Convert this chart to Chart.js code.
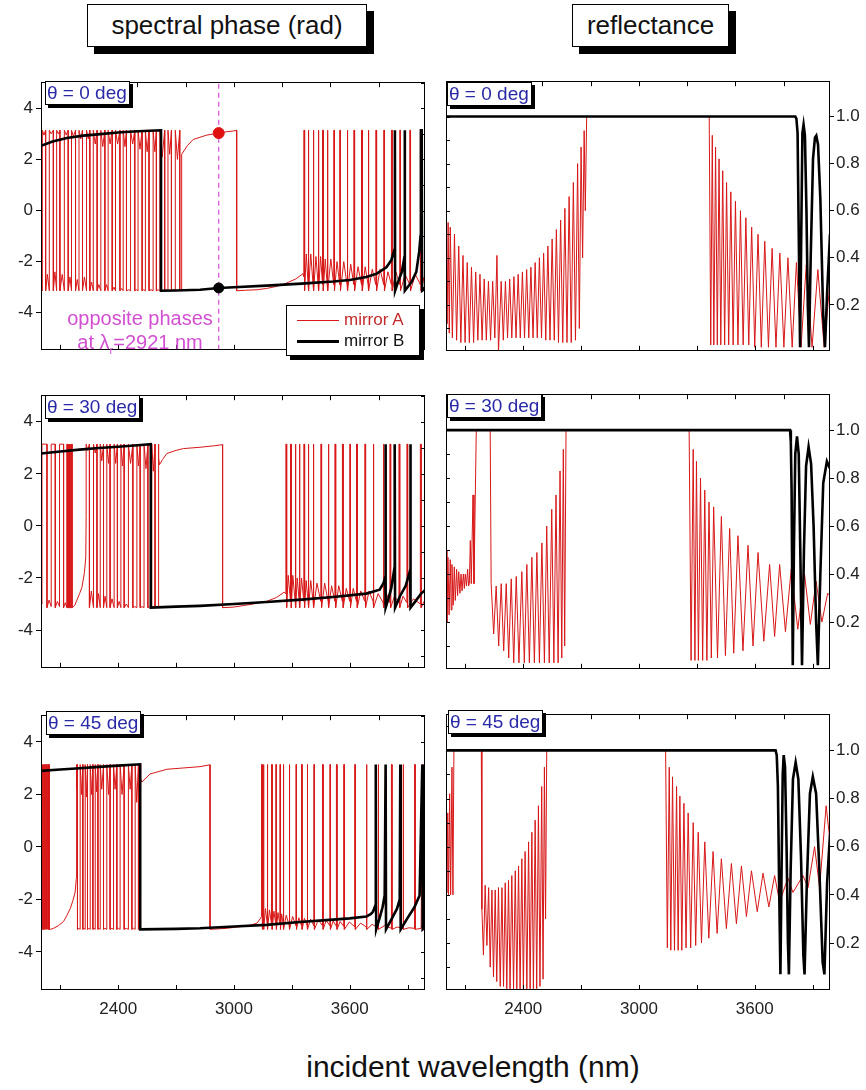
<!DOCTYPE html>
<html>
<head>
<meta charset="utf-8">
<script src="https://cdn.jsdelivr.net/npm/chart.js@4.4.1/dist/chart.umd.min.js"></script>
<style>
  body { margin: 0; background: #fff; }
  #page { position: relative; width: 866px; height: 1090px; overflow: hidden; font-family: 'Liberation Sans', Arial, sans-serif; }
  canvas { position: absolute; }
  .tbox { position: absolute; background: #fff; border: 1px solid #000; box-shadow: 7px 7px 0 #000; font-size: 26px; color: #111;
          display: flex; align-items: center; justify-content: center; }
  .abox { position: absolute; background: #fff; border: 1px solid #000; box-shadow: 3px 3px 0 #000; color: #2a2aa8;
          font-size: 19px; line-height: 22px; padding: 0 2px 0 1px; white-space: nowrap; }
  .legend { position: absolute; left: 286px; top: 305px; width: 132px; height: 49px; background: #fff; border: 1px solid #000;
            box-shadow: 4px 4px 0 #000; font-size: 17px; }
  .legend div { position: absolute; left: 10px; height: 20px; line-height: 20px; white-space: nowrap; }
  .legend span.ln { display: inline-block; width: 42px; vertical-align: middle; margin-right: 5px; }
  .note { position: absolute; color: #d24fd2; font-size: 20px; text-align: center; width: 200px; left: 40px; white-space: nowrap; }
  .xtitle { position: absolute; left: 0; width: 946px; top: 1050px; text-align: center; font-size: 30px; color: #111; }
</style>
</head>
<body>
<div id="page">
  <div class="tbox" style="left:87px;top:4px;width:278px;height:41px">spectral phase (rad)</div>
  <div class="tbox" style="left:572px;top:4px;width:155px;height:41px">reflectance</div>
  <div class="xtitle">incident wavelength (nm)</div>
</div>
<script>
// axis ranges and ticks
const X_MIN = 2000, X_MAX = 3990;
const PHASE_MIN = -5.45, PHASE_MAX = 5.02;
const REFL_MIN = 0.005, REFL_MAX = 1.15;
const xLabels = [2400, 3000, 3600];
const bottomTicks = [2100, 2400, 2700, 3000, 3300, 3600, 3900];
const topTicks = [2250, 2500, 2750, 3000, 3250, 3500, 3750];
const phaseTicks = [-4, -2, 0, 2, 4];
const phaseMinor = [-5, -4, -3, -2, -1, 0, 1, 2, 3, 4, 5];
const reflTicks = [0.2, 0.4, 0.6, 0.8, 1.0];
const reflMinor = [0.1, 0.2, 0.3, 0.4, 0.5, 0.6, 0.7, 0.8, 0.9, 1.0, 1.1];
const angles = ['θ = 0 deg', 'θ = 30 deg', 'θ = 45 deg'];

// opposite phases marker
const LAMBDA_R = 2921;
const PHASE_A_R = 3.03, PHASE_B_R = -3.03;

// spectral phase (rad), pairs of wavelength (nm), phase
const phaseA0 = [
  2000,-2.9, 2007,-3.14, 2007,3.14, 2015,2.95, 2024,3.14, 2024,-3.14, 2033,-2.5, 2043,-3.14, 2043,3.14, 2053,3.0,
  2064,3.14, 2064,-3.14, 2072,-2.4, 2081,-3.14, 2081,3.14, 2090,3.0, 2098,3.14, 2098,-3.14, 2110,-2.5, 2121,-3.14,
  2121,3.14, 2131,2.95, 2141,3.14, 2141,-3.14, 2150,-2.6, 2158,-3.14, 2158,3.14, 2168,2.9, 2179,3.14, 2179,-3.14,
  2188,-2.7, 2197,-3.14, 2197,3.14, 2206,2.8, 2215,3.14, 2215,-3.14, 2225,-2.6, 2236,-3.14, 2236,3.14, 2245,2.8,
  2253,3.14, 2253,-3.14, 2262,-2.8, 2271,-3.14, 2271,3.14, 2281,2.6, 2291,3.14, 2291,-3.14, 2300,-2.9, 2310,-3.14,
  2310,3.14, 2320,2.5, 2331,3.14, 2331,-3.14, 2340,-2.9, 2348,-3.14, 2348,3.14, 2358,2.6, 2369,3.14, 2369,-3.14,
  2378,-3.0, 2386,-3.14, 2386,3.14, 2397,2.6, 2409,3.14, 2409,-3.14, 2418,-3.05, 2426,-3.14, 2426,3.14, 2435,2.5,
  2443,3.14, 2443,-3.14, 2454,-3.1, 2464,-3.14, 2464,3.14, 2475,2.6, 2486,3.14, 2486,-3.14, 2495,-3.1, 2503,-3.14,
  2503,3.14, 2513,2.4, 2524,3.14, 2524,-3.14, 2532,-3.1, 2541,-3.14, 2541,3.14, 2550,2.3, 2560,3.14, 2560,-3.14,
  2570,-3.1, 2581,-3.14, 2581,3.14, 2590,2.3, 2598,3.14, 2598,-3.14, 2607,-3.1, 2616,-3.14, 2616,3.14, 2628,2.1,
  2641,3.14, 2641,-3.14, 2650,-3.1, 2658,-3.14, 2658,3.14, 2667,2.2, 2676,3.14, 2676,-3.14, 2686,-3.1, 2696,-3.14,
  2696,3.14, 2707,2.0, 2719,3.14, 2719,-3.14, 2724,-3.1, 2729,-3.14, 2729,2.2,
  2760,2.55, 2789,2.78, 2830,2.88, 2859,2.95, 2921,3.03, 2960,3.08, 2996,3.11, 3014,3.14, 3014,-3.14, 3060,-3.12,
  3120,-3.1, 3169,-3.05, 3220,-2.97, 3255,-2.9, 3290,-2.78, 3320,-2.68, 3358,-2.47,
  3362,-2.6, 3362,3.14, 3366,3.14, 3366,-3.14, 3375,-1.7, 3384,-2.9, 3384,3.14, 3388,3.14, 3388,-3.14, 3398,-1.7,
  3410,-2.9, 3410,3.14, 3414,3.14, 3414,-3.14, 3425,-1.8, 3436,-2.9, 3436,3.14, 3440,3.14, 3440,-3.14, 3449,-1.8,
  3459,-2.9, 3459,3.14, 3463,3.14, 3463,-3.14, 3473,-1.9, 3483,-2.9, 3483,3.14, 3487,3.14, 3487,-3.14, 3502,-1.9,
  3517,-2.9, 3517,3.14, 3521,3.14, 3521,-3.14, 3534,-2.0, 3548,-2.9, 3548,3.14, 3552,3.14, 3552,-3.14, 3569,-2.0,
  3586,-2.9, 3586,3.14, 3590,3.14, 3590,-3.14, 3605,-2.1, 3621,-2.9, 3621,3.14, 3625,3.14, 3625,-3.14, 3643,-2.2,
  3661,-2.9, 3661,3.14, 3665,3.14, 3665,-3.14, 3680,-2.2, 3695,-2.9, 3695,3.14, 3699,3.14, 3699,-3.14, 3717,-2.3,
  3735,-2.9, 3735,3.14, 3739,3.14, 3739,-3.14, 3757,-2.3, 3776,-2.9, 3776,3.14, 3780,3.14, 3780,-3.14, 3798,-2.4,
  3816,-2.9, 3816,3.14, 3820,3.14, 3820,-3.14, 3839,-2.4, 3859,-2.9, 3859,3.14, 3863,3.14, 3863,-3.14, 3887,-2.5,
  3911,-2.9, 3911,3.14, 3915,3.14, 3915,-3.14, 3940,-2.5, 3966,-2.9, 3966,3.14, 3970,3.14, 3970,-3.14, 3985,-2.6,
  4000,-2.9
];
const phaseB0 = [
  2000,2.53, 2060,2.7, 2134,2.84, 2220,2.93, 2307,2.99, 2400,3.05, 2479,3.09, 2560,3.12, 2622,3.14, 2622,-3.14,
  2700,-3.13, 2824,-3.1, 2921,-3.03, 3000,-3.0, 3169,-2.94, 3350,-2.86, 3514,-2.78, 3600,-2.72, 3686,-2.6, 3740,-2.47,
  3790,-2.22, 3815,-1.95, 3833,-1.5, 3834,3.14, 3835,-3.14, 3850,-2.8, 3870,-2.4, 3884,-1.8, 3885,3.14, 3886,-3.14,
  3920,-2.8, 3945,-2.4, 3960,-1.6, 3967,-1.0, 3969,3.14, 3973,3.14, 3975,-3.14, 4000,-3.0
];
const phaseA1 = [
  2000,-2.9, 2005,-3.0, 2005,3.14, 2031,3.14, 2031,-3.14, 2042,-2.85, 2053,-3.1, 2053,3.14, 2074,3.14, 2074,-3.14,
  2085,-2.9, 2096,-3.1, 2096,3.14, 2117,3.14, 2117,-3.14, 2126,-2.95, 2134,-3.14, 2134,3.14, 2137,3.14, 2137,-3.14,
  2140,-3.14, 2140,3.14, 2143,3.14, 2143,-3.14, 2146,-3.14, 2146,3.14, 2149,3.14, 2149,-3.14, 2152,-3.14, 2152,3.14,
  2155,3.14, 2155,-3.14, 2158,-3.14, 2158,3.14, 2161,3.14, 2161,-3.14, 2175,-3.05, 2186,-2.85, 2200,-2.6, 2212,-2.36,
  2225,-1.8, 2232,-1.2, 2234,0.4, 2234,3.14,
  2242,2.9, 2251,3.14, 2251,-3.14, 2261,-2.5, 2272,-3.14, 2272,3.14, 2281,2.8, 2290,3.14, 2290,-3.14, 2298,-2.6,
  2307,-3.14, 2307,3.14, 2315,2.5, 2324,3.14, 2324,-3.14, 2332,-2.7, 2341,-3.14, 2341,3.14, 2350,2.4, 2358,3.14,
  2358,-3.14, 2368,-2.8, 2379,-3.14, 2379,3.14, 2387,2.4, 2396,3.14, 2396,-3.14, 2405,-2.9, 2414,-3.14, 2414,3.14,
  2422,2.3, 2431,3.14, 2431,-3.14, 2442,-3.0, 2453,-3.14, 2453,3.14, 2464,2.4, 2476,3.14, 2476,-3.14, 2486,-3.1,
  2497,-3.14, 2497,3.14, 2505,2.3, 2514,3.14, 2514,-3.14, 2524,-3.1, 2534,-3.14, 2534,3.14, 2544,2.2, 2554,3.14,
  2554,-3.14, 2564,-3.1, 2574,-3.14, 2574,3.14, 2582,2.1, 2591,3.14, 2591,-3.14, 2600,-3.1, 2608,-3.14, 2608,3.14,
  2611,2.6, 2614,2.35, 2630,2.55, 2652,2.78, 2700,2.9, 2738,2.97, 2824,3.02, 2900,3.08, 2941,3.12, 2941,-3.14,
  2996,-3.12, 3083,-3.02, 3169,-2.9, 3220,-2.75, 3259,-2.55,
  3269,-2.6, 3269,3.14, 3273,3.14, 3273,-3.14, 3281,-1.9, 3293,-2.9, 3293,3.14, 3297,3.14, 3297,-3.14, 3305,-1.9,
  3317,-2.9, 3317,3.14, 3321,3.14, 3321,-3.14, 3328,-2.0, 3338,-2.9, 3338,3.14, 3342,3.14, 3342,-3.14, 3350,-2.0,
  3362,-2.9, 3362,3.14, 3366,3.14, 3366,-3.14, 3374,-2.1, 3384,-2.9, 3384,3.14, 3388,3.14, 3388,-3.14, 3398,-2.1,
  3410,-2.9, 3410,3.14, 3414,3.14, 3414,-3.14, 3430,-2.2, 3450,-2.9, 3450,3.14, 3454,3.14, 3454,-3.14, 3470,-2.2,
  3488,-2.9, 3488,3.14, 3492,3.14, 3492,-3.14, 3506,-2.3, 3523,-2.9, 3523,3.14, 3527,3.14, 3527,-3.14, 3543,-2.3,
  3562,-2.9, 3562,3.14, 3566,3.14, 3566,-3.14, 3582,-2.4, 3600,-2.9, 3600,3.14, 3604,3.14, 3604,-3.14, 3618,-2.4,
  3635,-2.9, 3635,3.14, 3639,3.14, 3639,-3.14, 3657,-2.5, 3678,-2.9, 3678,3.14, 3682,3.14, 3682,-3.14, 3700,-2.5,
  3721,-2.9, 3721,3.14, 3725,3.14, 3725,-3.14, 3747,-2.6, 3773,-2.95, 3773,3.14, 3777,3.14, 3777,-3.14, 3790,-2.6,
  3808,-2.95, 3808,3.14, 3812,3.14, 3812,-3.14, 3832,-2.7, 3855,-2.95, 3855,3.14, 3859,3.14, 3859,-3.14, 3876,-2.7,
  3896,-2.95, 3896,3.14, 3900,3.14, 3900,-3.14, 3930,-2.8, 3966,-3.0, 3966,3.14, 3970,3.14, 3970,-3.14, 3985,-2.9,
  4000,-3.0
];
const phaseB1 = [
  2000,2.78, 2100,2.86, 2200,2.93, 2300,2.99, 2400,3.04, 2500,3.1, 2569,3.14, 2569,-3.14, 2700,-3.1, 2824,-3.07,
  3000,-3.0, 3169,-2.92, 3350,-2.83, 3514,-2.73, 3686,-2.6, 3755,-2.45, 3775,-2.2, 3784,-1.97, 3785,3.14, 3787,-3.14,
  3800,-2.8, 3815,-2.4, 3832,-1.6, 3833,3.14, 3835,-3.14, 3860,-2.7, 3890,-2.3, 3913,-1.7, 3914,3.14, 3916,-3.14,
  3940,-2.9, 3970,-2.6, 4000,-2.4
];
const phaseA2 = [
  2000,-3.14, 2000,3.14, 2003,3.14, 2003,-3.14, 2006,-3.14, 2006,3.14, 2009,3.14, 2009,-3.14, 2012,-3.14, 2012,3.14,
  2015,3.14, 2015,-3.14, 2018,-3.14, 2018,3.14, 2021,3.14, 2021,-3.14, 2024,-3.14, 2024,3.14, 2027,3.14, 2027,-3.14,
  2030,-3.14, 2030,3.14, 2033,3.14, 2033,-3.14, 2036,-3.14, 2036,3.14, 2039,3.14, 2039,-3.14, 2042,-3.14, 2042,3.14,
  2045,3.14, 2045,-3.14, 2048,-3.14, 2065,-3.1, 2090,-3.0, 2117,-2.84, 2135,-2.6, 2152,-2.34, 2165,-2.05, 2177,-1.72,
  2183,-1.2, 2183,3.14,
  2186,2.2, 2189,3.14, 2189,-3.14, 2196,-3.1, 2203,-3.14, 2203,3.14, 2210,2.0, 2217,3.14, 2217,-3.14, 2223,-3.1,
  2229,-3.14, 2229,3.14, 2235,1.9, 2241,3.14, 2241,-3.14, 2248,-3.1, 2255,-3.14, 2255,3.14, 2262,2.0, 2269,3.14,
  2269,-3.14, 2275,-3.1, 2281,-3.14, 2281,3.14, 2288,2.1, 2295,3.14, 2295,-3.14, 2301,-3.1, 2307,-3.14, 2307,3.14,
  2315,2.2, 2324,3.14, 2324,-3.14, 2332,-3.1, 2341,-3.14, 2341,3.14, 2350,2.0, 2358,3.14, 2358,-3.14, 2367,-3.1,
  2376,-3.14, 2376,3.14, 2384,2.2, 2393,3.14, 2393,-3.14, 2401,-3.1, 2410,-3.14, 2410,3.14, 2420,2.0, 2431,3.14,
  2431,-3.14, 2442,-3.1, 2453,-3.14, 2453,3.14, 2462,2.2, 2471,3.14, 2471,-3.14, 2479,-3.1, 2488,-3.14, 2488,3.14,
  2496,1.7, 2505,3.14, 2505,-3.14, 2510,-3.1, 2514,-3.14, 2514,3.14, 2518,2.6, 2522,2.47,
  2565,2.78, 2652,2.96, 2738,3.01, 2824,3.06, 2876,3.13, 2876,-3.14, 2962,-3.1, 3040,-3.03, 3083,-2.99, 3120,-2.9,
  3143,-2.66,
  3143,3.14, 3146,3.14, 3146,-3.14, 3149,-2.3, 3152,-2.9, 3152,3.14, 3155,3.14, 3155,-3.14, 3163,-2.35,
  3172,-2.9, 3172,3.14, 3175,3.14, 3175,-3.14, 3184,-2.4, 3195,-2.95, 3195,3.14, 3198,3.14, 3198,-3.14, 3207,-2.45,
  3217,-2.95, 3217,3.14, 3220,3.14, 3220,-3.14, 3228,-2.5, 3238,-2.95, 3238,3.14, 3241,3.14, 3241,-3.14, 3247,-2.55,
  3255,-2.95, 3255,3.14, 3258,3.14, 3258,-3.14, 3271,-2.6, 3286,-3.0, 3286,3.14, 3289,3.14, 3289,-3.14, 3304,-2.65,
  3321,-3.0, 3321,3.14, 3324,3.14, 3324,-3.14, 3336,-2.7, 3350,-3.0, 3350,3.14, 3353,3.14, 3353,-3.14, 3365,-2.72,
  3379,-3.0, 3379,3.14, 3382,3.14, 3382,-3.14, 3397,-2.75, 3414,-3.0, 3414,3.14, 3417,3.14, 3417,-3.14, 3437,-2.78,
  3459,-3.0, 3459,3.14, 3462,3.14, 3462,-3.14, 3478,-2.8, 3497,-3.0, 3497,3.14, 3500,3.14, 3500,-3.14, 3514,-2.82,
  3531,-3.02, 3531,3.14, 3534,3.14, 3534,-3.14, 3550,-2.84, 3569,-3.02, 3569,3.14, 3572,3.14, 3572,-3.14, 3598,-2.86,
  3626,-3.04, 3626,3.14, 3629,3.14, 3629,-3.14, 3656,-2.9, 3686,-3.05, 3686,3.14, 3689,3.14, 3689,-3.14, 3716,-2.95,
  3747,-3.08, 3747,3.14, 3750,3.14, 3750,-3.14, 3780,-3.0, 3816,-3.1, 3816,3.14, 3819,3.14, 3819,-3.14, 3846,-3.05,
  3876,-3.1, 3876,3.14, 3879,3.14, 3879,-3.14, 3906,-3.08, 3936,-3.1, 3936,3.14, 3939,3.14, 3939,-3.14, 3970,-3.1,
  3976,3.14, 3979,-3.14, 4000,-3.1
];
const phaseB2 = [
  2000,2.9, 2100,2.95, 2200,3.0, 2300,3.05, 2400,3.1, 2514,3.15, 2514,-3.14, 2700,-3.12, 2824,-3.1, 3000,-3.03,
  3169,-2.97, 3341,-2.86, 3514,-2.77, 3600,-2.72, 3686,-2.65, 3710,-2.55, 3721,-2.46, 3734,-2.2, 3735,3.14, 3737,-3.14,
  3755,-2.7, 3770,-2.3, 3781,-1.85, 3786,3.14, 3788,-3.14, 3820,-2.7, 3845,-2.35, 3859,-2.0, 3862,3.14, 3864,-3.14,
  3900,-2.7, 3935,-2.3, 3962,-1.85, 3976,3.14, 3978,-3.14, 4000,-3.0
];

// reflectance, pairs of wavelength (nm), R
const reflA0 = [
  2000,0.64, 2006,0.12, 2011,0.55, 2017,0.08, 2022,0.53, 2033,0.06, 2044,0.50, 2055,0.05, 2066,0.45, 2077,0.04,
  2088,0.41, 2099,0.04, 2110,0.38, 2121,0.04, 2132,0.36, 2143,0.04, 2154,0.34, 2165,0.05, 2176,0.33, 2187,0.05,
  2198,0.31, 2209,0.05, 2220,0.30, 2231,0.05, 2242,0.30, 2253,0.06, 2264,0.41, 2272,0.0, 2286,0.30, 2297,0.05,
  2308,0.30, 2319,0.06, 2330,0.31, 2341,0.06, 2352,0.32, 2363,0.06, 2374,0.33, 2385,0.06, 2396,0.34, 2407,0.06,
  2418,0.35, 2429,0.06, 2440,0.36, 2451,0.06, 2462,0.38, 2473,0.06, 2484,0.40, 2495,0.06, 2506,0.42, 2517,0.05,
  2528,0.45, 2539,0.05, 2550,0.48, 2561,0.05, 2572,0.52, 2583,0.04, 2594,0.56, 2605,0.04, 2616,0.61, 2627,0.04,
  2638,0.66, 2649,0.04, 2660,0.72, 2671,0.05, 2682,0.80, 2691,0.10, 2700,0.87, 2708,0.40, 2716,0.94, 2722,0.60,
  2729,1.0, 3364,1.0,
  3372,0.03, 3380,0.92, 3388,0.03, 3397,0.87, 3406,0.03, 3415,0.82, 3424,0.03, 3434,0.77, 3444,0.03, 3454,0.72,
  3465,0.03, 3476,0.68, 3488,0.03, 3500,0.64, 3513,0.03, 3526,0.60, 3540,0.03, 3554,0.57, 3569,0.03, 3584,0.53,
  3600,0.02, 3617,0.50, 3634,0.02, 3652,0.47, 3671,0.02, 3690,0.44, 3710,0.02, 3730,0.42, 3751,0.02, 3772,0.40,
  3794,0.02, 3816,0.38, 3840,0.02, 3867,0.37, 3897,0.02, 3927,0.35, 3960,0.02, 3990,0.30, 4000,0.34
];
const reflB0 = [
  2000,1.0, 3810,1.0, 3816,0.99, 3822,0.93, 3828,0.5, 3835,0.02, 3841,0.5, 3847,0.93, 3853,0.966, 3860,0.92,
  3868,0.6, 3875,0.2, 3881,0.02, 3890,0.4, 3902,0.82, 3912,0.91, 3919,0.919, 3928,0.88, 3940,0.65, 3955,0.15,
  3964,0.02, 3975,0.25, 3990,0.5, 4000,0.6
];
const reflA1 = [
  2000,0.50, 2005,0.20, 2010,0.47, 2016,0.23, 2022,0.46, 2027,0.25, 2031,0.44, 2037,0.27, 2043,0.43, 2048,0.29,
  2055,0.42, 2060,0.31, 2066,0.41, 2072,0.32, 2078,0.40, 2083,0.33, 2090,0.40, 2095,0.34, 2100,0.40, 2106,0.35,
  2112,0.42, 2117,0.35, 2121,0.36, 2126,0.54, 2131,0.36, 2140,0.73, 2145,0.36, 2157,1.0, 2229,1.0,
  2234,0.36, 2247,0.15, 2260,0.35, 2273,0.10, 2286,0.36, 2299,0.08, 2312,0.36, 2325,0.05, 2338,0.38, 2351,0.03,
  2364,0.39, 2378,0.03, 2393,0.41, 2406,0.03, 2419,0.44, 2432,0.03, 2445,0.47, 2458,0.03, 2471,0.49, 2484,0.03,
  2497,0.53, 2510,0.03, 2522,0.60, 2535,0.03, 2548,0.67, 2559,0.03, 2570,0.73, 2581,0.03, 2591,0.83, 2600,0.05,
  2608,0.92, 2615,0.10, 2622,1.0, 3260,1.0,
  3270,0.04, 3281,0.92, 3290,0.04, 3298,0.87, 3308,0.04, 3319,0.80, 3330,0.04, 3341,0.75, 3352,0.04, 3363,0.70,
  3375,0.05, 3387,0.68, 3407,0.05, 3427,0.64, 3448,0.06, 3470,0.59, 3491,0.07, 3513,0.56, 3539,0.08, 3565,0.52,
  3591,0.10, 3617,0.49, 3647,0.12, 3677,0.44, 3703,0.14, 3729,0.44, 3759,0.16, 3789,0.42, 3823,0.17, 3858,0.40,
  3888,0.19, 3918,0.37, 3948,0.20, 3978,0.32, 4000,0.30
];
const reflB1 = [
  2000,1.0, 3783,1.0, 3787,0.95, 3791,0.75, 3797,0.02, 3803,0.5, 3810,0.9, 3819,0.974, 3828,0.9, 3836,0.5,
  3845,0.02, 3855,0.5, 3866,0.85, 3879,0.93, 3892,0.86, 3905,0.6, 3918,0.2, 3927,0.02, 3940,0.4, 3955,0.78,
  3974,0.87, 3990,0.84, 4000,0.8
];
const reflA2 = [
  2000,0.59, 2004,0.41, 2009,0.74, 2013,0.40, 2019,0.82, 2024,0.40, 2031,0.93, 2036,0.40, 2041,1.0, 2183,1.0,
  2186,0.34, 2194,0.15, 2203,0.44, 2212,0.19, 2221,0.43, 2229,0.10, 2238,0.42, 2246,0.06, 2255,0.42, 2263,0.04,
  2272,0.43, 2281,0.02, 2290,0.43, 2298,0.02, 2307,0.45, 2315,0.01, 2324,0.46, 2332,0.01, 2341,0.48, 2350,0.01,
  2359,0.50, 2367,0.01, 2376,0.52, 2384,0.01, 2393,0.55, 2401,0.01, 2410,0.58, 2419,0.01, 2428,0.62, 2436,0.01,
  2445,0.66, 2453,0.01, 2462,0.71, 2470,0.01, 2479,0.77, 2487,0.02, 2496,0.85, 2503,0.05, 2510,0.93, 2516,0.30,
  2522,1.0, 3138,1.0,
  3147,0.18, 3157,0.93, 3165,0.17, 3174,0.89, 3184,0.17, 3195,0.85, 3203,0.17, 3212,0.81, 3222,0.17, 3233,0.78,
  3244,0.18, 3255,0.74, 3268,0.18, 3281,0.70, 3294,0.19, 3307,0.66, 3324,0.20, 3341,0.62, 3362,0.22, 3384,0.58,
  3405,0.24, 3427,0.55, 3453,0.26, 3479,0.53, 3505,0.28, 3531,0.52, 3557,0.31, 3583,0.50, 3613,0.33, 3643,0.49,
  3673,0.35, 3703,0.48, 3729,0.37, 3772,0.47, 3798,0.41, 3850,0.48, 3876,0.43, 3910,0.60, 3936,0.43, 3970,0.77,
  4000,0.55
];
const reflB2 = [
  2000,1.0, 3708,1.0, 3714,0.98, 3720,0.85, 3727,0.4, 3733,0.07, 3739,0.5, 3745,0.9, 3750,0.98, 3757,0.93,
  3765,0.6, 3772,0.2, 3777,0.07, 3786,0.5, 3798,0.88, 3812,0.95, 3826,0.88, 3840,0.55, 3852,0.15, 3858,0.07,
  3870,0.45, 3886,0.82, 3901,0.89, 3918,0.82, 3935,0.5, 3952,0.12, 3961,0.07, 3975,0.45, 3990,0.65, 4000,0.7
];

const phaseA = [phaseA0, phaseA1, phaseA2];
const phaseB = [phaseB0, phaseB1, phaseB2];
const reflA = [reflA0, reflA1, reflA2];
const reflB = [reflB0, reflB1, reflB2];

// page layout (pixels)
const rowBox = [{ top: 75, bottom: 357 }, { top: 388, bottom: 675 }, { top: 708, bottom: 990 }];
const tagPos = [
  [{ left: 45, top: 81 }, { left: 447, top: 82 }],
  [{ left: 45, top: 395 }, { left: 447, top: 394 }],
  [{ left: 46, top: 711 }, { left: 448, top: 710 }]
];
const RED = '#d81818';
const tickFont = { family: "'Liberation Sans', Arial, sans-serif", size: 17 };

const pts = flat => {
  const out = [];
  for (let i = 0; i < flat.length; i += 2) out.push({ x: flat[i], y: flat[i + 1] });
  return out;
};

// frame + inward tick marks, placed with the chart scales
const framePlugin = {
  id: 'frame',
  afterDraw(chart, args, opts) {
    const { ctx, chartArea: a } = chart;
    const sx = chart.scales.x, sy = chart.scales.y;
    ctx.save();
    ctx.strokeStyle = '#000';
    ctx.lineWidth = 1;
    ctx.beginPath();
    topTicks.forEach(v => {
      const p = Math.round(sx.getPixelForValue(v)) + 0.5;
      ctx.moveTo(p, a.top); ctx.lineTo(p, a.top + 5);
    });
    bottomTicks.forEach(v => {
      const p = Math.round(sx.getPixelForValue(v)) + 0.5;
      ctx.moveTo(p, a.bottom); ctx.lineTo(p, a.bottom - 5);
    });
    opts.inner.forEach(v => {
      const p = Math.round(sy.getPixelForValue(v)) + 0.5;
      if (opts.side === 'right') { ctx.moveTo(a.right, p); ctx.lineTo(a.right - 4, p); }
      else { ctx.moveTo(a.left, p); ctx.lineTo(a.left + 4, p); }
    });
    ctx.stroke();
    ctx.strokeRect(Math.round(a.left) + 0.5, Math.round(a.top) + 0.5, Math.round(a.width) - 1, Math.round(a.height) - 1);
    ctx.restore();
  }
};

const page = document.getElementById('page');

function makeCanvas(left, top, w, h) {
  const c = document.createElement('canvas');
  c.width = w; c.height = h;
  c.style.left = left + 'px'; c.style.top = top + 'px';
  c.style.width = w + 'px'; c.style.height = h + 'px';
  page.appendChild(c);
  return c;
}

function xScale(last) {
  return {
    type: 'linear', position: 'bottom', min: X_MIN, max: X_MAX,
    grid: { display: false, drawTicks: false }, border: { display: false },
    ticks: { display: last, font: tickFont, color: '#222', padding: 9, maxRotation: 0, callback: v => String(v) },
    afterBuildTicks: s => { s.ticks = xLabels.map(v => ({ value: v })); },
    afterFit: s => { s.height = last ? 32 : 6; }
  };
}

function baseOptions() {
  return {
    responsive: false, animation: false, devicePixelRatio: 1, events: [],
    plugins: { legend: { display: false }, tooltip: { enabled: false } },
    elements: { point: { radius: 0 }, line: { tension: 0 } }
  };
}

rowBox.forEach((row, i) => {
  const last = i === rowBox.length - 1;
  const h = row.bottom - row.top + 6 + (last ? 32 : 6);

  // spectral phase panel
  const phaseSets = [];
  if (i === 0) {
    phaseSets.push({ data: [{ x: LAMBDA_R, y: PHASE_A_R }], showLine: false, pointRadius: 5.5, backgroundColor: '#e01010', borderColor: '#e01010' });
    phaseSets.push({ data: [{ x: LAMBDA_R, y: PHASE_B_R }], showLine: false, pointRadius: 5, backgroundColor: '#000', borderColor: '#000' });
  }
  phaseSets.push({ data: pts(phaseB[i]), borderColor: '#000', borderWidth: 2.6, showLine: true });
  phaseSets.push({ data: pts(phaseA[i]), borderColor: RED, borderWidth: 1, showLine: true });
  if (i === 0) {
    phaseSets.push({ data: [{ x: LAMBDA_R, y: PHASE_MIN }, { x: LAMBDA_R, y: PHASE_MAX }], borderColor: '#d84cd8', borderWidth: 1.2, borderDash: [5, 4], showLine: true });
  }
  const optL = baseOptions();
  optL.layout = { padding: { top: 6, right: 7, left: 0, bottom: 0 } };
  optL.plugins.frame = { inner: phaseMinor, side: 'right' };
  optL.scales = {
    x: xScale(last),
    y: {
      min: PHASE_MIN, max: PHASE_MAX, position: 'left',
      grid: { drawOnChartArea: false, drawTicks: true, tickLength: 5, color: '#000' }, border: { display: false },
      ticks: { font: tickFont, color: '#222', padding: 3, callback: v => String(v) },
      afterBuildTicks: s => { s.ticks = phaseTicks.map(v => ({ value: v })); },
      afterFit: s => { s.width = 41; }
    }
  };
  new Chart(makeCanvas(0, row.top - 6, 432, h), {
    type: 'scatter', data: { datasets: phaseSets }, options: optL, plugins: [framePlugin]
  });

  // reflectance panel
  const optR = baseOptions();
  optR.layout = { padding: { top: 6, right: 0, left: 10, bottom: 0 } };
  optR.plugins.frame = { inner: reflMinor, side: 'left' };
  optR.scales = {
    x: xScale(last),
    y: {
      min: REFL_MIN, max: REFL_MAX, position: 'right',
      grid: { drawOnChartArea: false, drawTicks: true, tickLength: 4, color: '#000' }, border: { display: false },
      ticks: { font: tickFont, color: '#222', padding: 2, callback: v => v.toFixed(1) },
      afterBuildTicks: s => { s.ticks = reflTicks.map(v => ({ value: v })); },
      afterFit: s => { s.width = 36; }
    }
  };
  new Chart(makeCanvas(436, row.top - 6, 430, h), {
    type: 'scatter',
    data: { datasets: [
      { data: pts(reflB[i]), borderColor: '#000', borderWidth: 2.6, showLine: true },
      { data: pts(reflA[i]), borderColor: RED, borderWidth: 1, showLine: true }
    ] },
    options: optR, plugins: [framePlugin]
  });

  // angle tags
  tagPos[i].forEach(p => {
    const d = document.createElement('div');
    d.className = 'abox';
    d.style.left = p.left + 'px'; d.style.top = p.top + 'px';
    d.textContent = angles[i];
    page.appendChild(d);
  });
});

// legend and note of the first phase panel
const legend = document.createElement('div');
legend.className = 'legend';
legend.innerHTML =
  '<div style="top:4px;color:#c42a2a"><span class="ln" style="border-top:1px solid ' + RED + '"></span>mirror A</div>' +
  '<div style="top:25px;color:#111"><span class="ln" style="border-top:3px solid #000"></span>mirror B</div>';
page.appendChild(legend);

const note1 = document.createElement('div');
note1.className = 'note';
note1.style.top = '307px';
note1.textContent = 'opposite phases';
page.appendChild(note1);
const note2 = document.createElement('div');
note2.className = 'note';
note2.style.top = '331px';
note2.innerHTML = 'at λ<sub style="font-size:11px">r</sub>=' + LAMBDA_R + ' nm';
page.appendChild(note2);
</script>
</body>
</html>
